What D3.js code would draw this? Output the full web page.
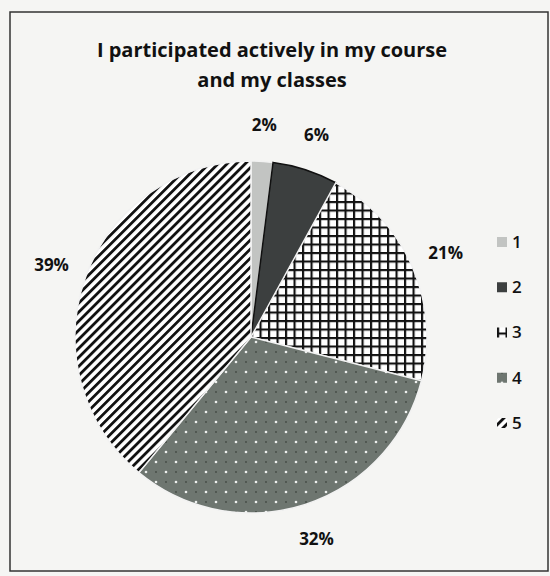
<!DOCTYPE html>
<html>
<head>
<meta charset="utf-8">
<script src="https://cdn.jsdelivr.net/npm/d3@7"></script>
<style>
  body { margin: 0; background: #f5f5f3; }
  text { font-family: 'Open Sans', 'Lato', sans-serif; }
</style>
</head>
<body>
<svg id="chart_svg" width="550" height="576"></svg>
<script>
var categories = ['1', '2', '3', '4', '5'];
var values = [2, 6, 21, 32, 39];
var title_lines = ['I participated actively in my course', 'and my classes'];

var svg = d3.select('#chart_svg');
var width = parseFloat(svg.attr('width'));
var height = parseFloat(svg.attr('height'));

/* Patterns */
var defs = svg.append('defs');

var grid = defs.append('pattern').attr('id', 'grid').attr('patternUnits', 'userSpaceOnUse')
  .attr('width', 8.5).attr('height', 8.5);
grid.append('rect').attr('width', 8.5).attr('height', 8.5).attr('fill', 'white');
grid.append('path').attr('d', 'M0,1H8.5M1,0V8.5').attr('stroke', '#111').attr('stroke-width', 2.3);

var dots = defs.append('pattern').attr('id', 'dots').attr('patternUnits', 'userSpaceOnUse')
  .attr('width', 20).attr('height', 20);
dots.append('rect').attr('width', 20).attr('height', 20).attr('fill', '#6e7670');
[[5, 5], [15, 15]].forEach(d => {
  dots.append('circle').attr('cx', d[0]).attr('cy', d[1]).attr('r', 1.3).attr('fill', '#eef0ee');
});
[[15, 5], [5, 15]].forEach(d => {
  dots.append('circle').attr('cx', d[0]).attr('cy', d[1]).attr('r', 0.9).attr('fill', '#434943');
});

var diag = defs.append('pattern').attr('id', 'diag').attr('patternUnits', 'userSpaceOnUse')
  .attr('width', 6.4).attr('height', 6.4).attr('patternTransform', 'rotate(45)');
diag.append('rect').attr('width', 6.4).attr('height', 6.4).attr('fill', 'white');
diag.append('rect').attr('x', 0).attr('width', 2.8).attr('height', 6.4).attr('fill', '#111');

var fills = ['#c2c4c2', '#3c3f3f', 'url(#grid)', 'url(#dots)', 'url(#diag)'];
var strokes = ['#f2f2f2', '#111', '#f2f2f2', '#f2f2f2', '#f2f2f2'];

/* Frame */
svg.append('rect')
  .attr('x', 10).attr('y', 12).attr('width', 538).attr('height', 559)
  .attr('fill', 'none').attr('stroke', '#333').attr('stroke-width', 1.5);

/* Title */
svg.append('text')
  .attr('x', 272).attr('y', 57)
  .attr('text-anchor', 'middle')
  .style('font-size', '20px').style('font-weight', 'bold').style('fill', '#111')
  .selectAll('tspan').data(title_lines).join('tspan')
  .attr('x', 272).attr('dy', (d, i) => i === 0 ? 0 : 30)
  .text(d => d);

/* Pie */
var centre = { x: 251, y: 337 };
var radius = 176;

var pie = d3.pie().sort(null).value(d => d);
var arcs = pie(values);
var arc = d3.arc().innerRadius(0).outerRadius(radius);
var labelArc = d3.arc().innerRadius(212).outerRadius(212);

var g = svg.append('g').attr('transform', 'translate(' + centre.x + ',' + centre.y + ')');

g.selectAll('path.slice').data(arcs).join('path')
  .attr('class', 'slice')
  .attr('d', arc)
  .attr('fill', (d, i) => fills[i])
  .attr('stroke', (d, i) => strokes[i])
  .attr('stroke-width', 1.5);

g.selectAll('text.label').data(arcs).join('text')
  .attr('class', 'label')
  .attr('transform', d => 'translate(' + labelArc.centroid(d) + ')')
  .attr('text-anchor', 'middle')
  .attr('dy', '0.35em')
  .style('font-size', '17px').style('font-weight', 'bold').style('fill', '#111')
  .text(d => d.data + '%');

/* Legend */
var legendY = d3.scalePoint().domain(categories).range([242, 423]);

var legend = svg.append('g');
var items = legend.selectAll('g').data(categories).join('g')
  .attr('transform', d => 'translate(497,' + legendY(d) + ')');
items.append('rect')
  .attr('x', 0).attr('y', -5).attr('width', 10).attr('height', 10)
  .attr('fill', (d, i) => fills[i]);
items.append('text')
  .attr('x', 15).attr('dy', '0.35em')
  .style('font-size', '17px').style('font-weight', '600').style('fill', '#111')
  .text(d => d);
</script>
</body>
</html>
